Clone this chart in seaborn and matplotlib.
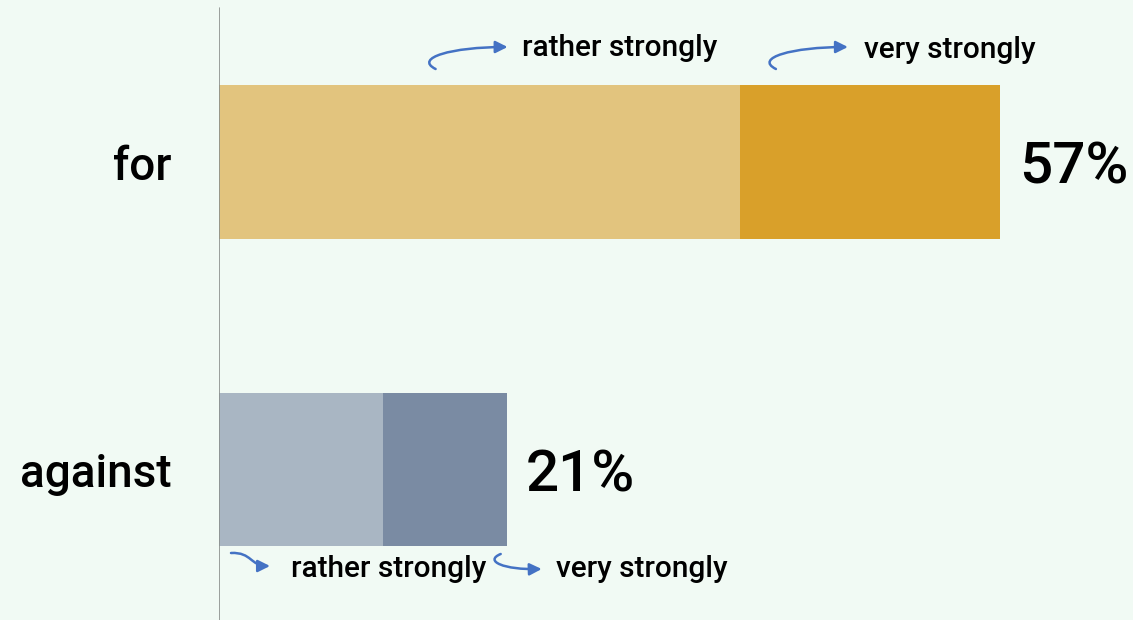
import matplotlib
matplotlib.use('Agg')
import matplotlib.pyplot as plt
from matplotlib.patches import FancyArrowPatch
from matplotlib.path import Path
import seaborn as sns
import pandas as pd

categories = ['for', 'against']
rather = [38, 12]
very = [19, 9]
totals = [r + v for r, v in zip(rather, very)]
light_colors = ['#E2C47E', '#A9B6C3']
dark_colors = ['#D9A02A', '#7A8BA3']
segment_labels = ['rather strongly', 'very strongly']

df = pd.DataFrame({'cat': categories, 'rather': rather, 'very': very, 'total': totals})

sns.set_style('white')
plt.rcParams['font.family'] = ['Roboto', 'DejaVu Sans']
plt.rcParams['text.color'] = 'black'
plt.rcParams['ytick.color'] = 'black'
bg = '#F1FAF4'

fig = plt.figure(figsize=(11.33, 6.2), dpi=100, facecolor=bg)
ax = fig.add_axes([219 / 1133, 0, 1 - 219 / 1133, 1])
ax.set_facecolor(bg)

# stacked bars: full total in dark, "rather" part drawn over it in light
sns.barplot(data=df, x='total', y='cat', hue='cat', palette=dark_colors,
            width=0.5, saturation=1, legend=False, linewidth=0, ax=ax)
sns.barplot(data=df, x='rather', y='cat', hue='cat', palette=light_colors,
            width=0.5, saturation=1, legend=False, linewidth=0, ax=ax)

PX = 13.7      # pixels per percent
PY = 307.5     # pixels per category step
ax.set_xlim(0, 914 / PX)
ax.set_ylim(1 + (620 - 469.5) / PY, -162 / PY)
for s in ax.spines.values():
    s.set_visible(False)
ax.axvline(0, ymin=0, ymax=1 - 8 / 620, color='#8A8F8C', lw=1.2)
ax.set_xticks([])
ax.set_xlabel('')
ax.set_ylabel('')
ax.tick_params(axis='y', length=0, pad=34, labelsize=33)
for lab in ax.get_yticklabels():
    lab.set_fontweight('medium')

# totals
for i, t in enumerate(totals):
    ax.text(t + 1.4, i + 0.02, f'{t}%', fontsize=42, fontweight='medium',
            va='center', ha='left')


def curved_arrow(x0, y0, pts):
    # pts: pixel offsets from the anchor (x0 in %, y0 in category units)
    verts = [(x0 + dx / PX, y0 + dy / PY) for dx, dy in pts]
    path = Path(verts, [Path.MOVETO, Path.CURVE4, Path.CURVE4, Path.CURVE4])
    ax.add_patch(FancyArrowPatch(path=path, arrowstyle='-|>', color='#4472C4',
                                 lw=1.8, mutation_scale=18))


fs = 21.5
# labels above the "for" bar
ax.text(rather[0] - 218 / PX, -0.37, segment_labels[0], fontsize=fs,
        fontweight='medium', va='center')
ax.text(totals[0] - 136 / PX, -0.365, segment_labels[1], fontsize=fs,
        fontweight='medium', va='center')
top_hook = [(0, 0), (-22, -11), (16, -22), (72, -22)]
curved_arrow(rather[0] - 304 / PX, -93 / PY, top_hook)
curved_arrow(totals[0] - 224 / PX, -93 / PY, top_hook)

# labels below the "against" bar
ax.text(72 / PX, 1.325, segment_labels[0], fontsize=fs, fontweight='medium', va='center')
ax.text(totals[1] + 49 / PX, 1.325, segment_labels[1], fontsize=fs,
        fontweight='medium', va='center')
curved_arrow(12 / PX, 1 + 83.5 / PY, [(0, 0), (21, -1), (19, 13), (39, 13)])
curved_arrow(totals[1] - 6 / PX, 1 + 84.5 / PY, [(0, 0), (-17, 7), (3, 16), (41, 15)])

fig.savefig('out.png', dpi=100, facecolor=bg)
